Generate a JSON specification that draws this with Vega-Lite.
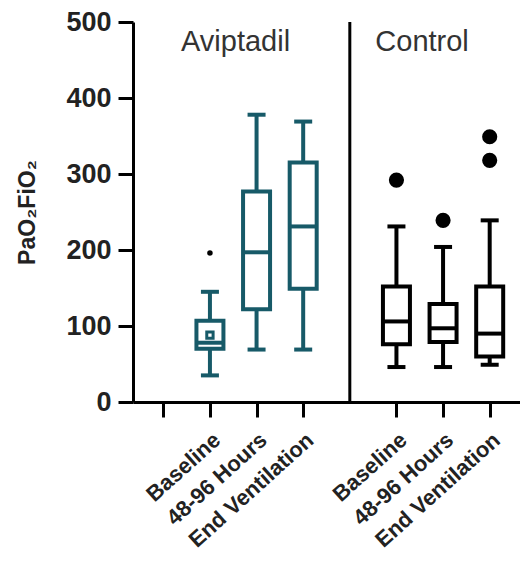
{
  "$schema": "https://vega.github.io/schema/vega-lite/v6.json",
  "autosize": {"type": "none"},
  "padding": {"left": 133, "top": 22, "right": 0, "bottom": 167},
  "width": 387,
  "height": 380,
  "background": "white",
  "config": {
    "view": {"stroke": null},
    "font": "Liberation Sans",
    "axis": {"domainColor": "black", "domainWidth": 3, "tickColor": "black", "tickWidth": 3, "tickSize": 15, "grid": false, "labelColor": "#222", "titleColor": "#222", "labelFontWeight": "bold", "titleFontWeight": "bold"}
  },
  "datasets": {
    "boxes": [
      {"group": "Aviptadil", "slot": "Aviptadil|Baseline", "min": 35, "q1": 70, "median": 78, "q3": 107, "max": 145},
      {"group": "Aviptadil", "slot": "Aviptadil|48-96 Hours", "min": 69, "q1": 122, "median": 197, "q3": 277, "max": 378},
      {"group": "Aviptadil", "slot": "Aviptadil|End Ventilation", "min": 69, "q1": 149, "median": 231, "q3": 315, "max": 369},
      {"group": "Control", "slot": "Control|Baseline", "min": 46, "q1": 76, "median": 106, "q3": 152, "max": 231},
      {"group": "Control", "slot": "Control|48-96 Hours", "min": 46, "q1": 79, "median": 97, "q3": 129, "max": 204},
      {"group": "Control", "slot": "Control|End Ventilation", "min": 49, "q1": 60, "median": 90, "q3": 152, "max": 239}
    ],
    "outliers": [
      {"group": "Aviptadil", "slot": "Aviptadil|Baseline", "value": 196},
      {"group": "Control", "slot": "Control|Baseline", "value": 292},
      {"group": "Control", "slot": "Control|48-96 Hours", "value": 239},
      {"group": "Control", "slot": "Control|End Ventilation", "value": 318},
      {"group": "Control", "slot": "Control|End Ventilation", "value": 349}
    ],
    "means": [
      {"group": "Aviptadil", "slot": "Aviptadil|Baseline", "value": 88}
    ],
    "divider": [{"slot": "gap", "lo": 0, "hi": 500}],
    "titles": [
      {"slot": "Aviptadil|48-96 Hours", "label": "Aviptadil", "value": 474},
      {"slot": "Control|48-96 Hours", "label": "Control", "value": 474}
    ]
  },
  "encoding": {
    "x": {
      "field": "slot", "type": "nominal",
      "scale": {"type": "point", "padding": 0.65, "domain": ["blank", "Aviptadil|Baseline", "Aviptadil|48-96 Hours", "Aviptadil|End Ventilation", "gap", "Control|Baseline", "Control|48-96 Hours", "Control|End Ventilation"]},
      "axis": {"title": null, "values": ["blank", "Aviptadil|Baseline", "Aviptadil|48-96 Hours", "Aviptadil|End Ventilation", "Control|Baseline", "Control|48-96 Hours", "Control|End Ventilation"], "labelExpr": "indexof(datum.value, '|') >= 0 ? split(datum.value, '|')[1] : ''", "labelAngle": -42, "labelFontSize": 22, "labelPadding": 12}
    }
  },
  "layer": [
    {
      "data": {"name": "divider"},
      "mark": {"type": "rule", "color": "black", "strokeWidth": 3},
      "encoding": {"y": {"field": "lo", "type": "quantitative", "scale": {"domain": [0, 500]}, "axis": {"values": [0, 100, 200, 300, 400, 500], "labelFontSize": 27, "labelPadding": 7, "title": "PaO₂FiO₂", "titleFontSize": 23, "titlePadding": 26}}, "y2": {"field": "hi"}}
    },
    {
      "data": {"name": "boxes"},
      "mark": {"type": "rule", "strokeWidth": 4, "opacity": 1},
      "encoding": {"y": {"field": "min", "type": "quantitative"}, "y2": {"field": "max"}, "color": {"field": "group", "type": "nominal", "scale": {"domain": ["Aviptadil", "Control"], "range": ["#175a68", "#000000"]}, "legend": null}}
    },
    {
      "data": {"name": "boxes"},
      "mark": {"type": "tick", "thickness": 4, "size": 18, "opacity": 1},
      "encoding": {"y": {"field": "min", "type": "quantitative"}, "color": {"field": "group", "type": "nominal", "legend": null}}
    },
    {
      "data": {"name": "boxes"},
      "mark": {"type": "tick", "thickness": 4, "size": 18, "opacity": 1},
      "encoding": {"y": {"field": "max", "type": "quantitative"}, "color": {"field": "group", "type": "nominal", "legend": null}}
    },
    {
      "data": {"name": "boxes"},
      "mark": {"type": "bar", "fill": "white", "strokeWidth": 4, "size": 27, "opacity": 1},
      "encoding": {"y": {"field": "q1", "type": "quantitative"}, "y2": {"field": "q3"}, "stroke": {"field": "group", "type": "nominal", "scale": {"domain": ["Aviptadil", "Control"], "range": ["#175a68", "#000000"]}, "legend": null}}
    },
    {
      "data": {"name": "boxes"},
      "mark": {"type": "tick", "thickness": 4, "size": 29, "opacity": 1},
      "encoding": {"y": {"field": "median", "type": "quantitative"}, "color": {"field": "group", "type": "nominal", "legend": null}}
    },
    {
      "data": {"name": "means"},
      "mark": {"type": "square", "filled": false, "strokeWidth": 3, "size": 40, "opacity": 1, "color": "#175a68"},
      "encoding": {"y": {"field": "value", "type": "quantitative"}}
    },
    {
      "data": {"name": "outliers"},
      "mark": {"type": "point", "filled": true, "opacity": 1, "color": "black"},
      "encoding": {"y": {"field": "value", "type": "quantitative"}, "size": {"field": "group", "type": "nominal", "scale": {"domain": ["Aviptadil", "Control"], "range": [30, 230]}, "legend": null}}
    },
    {
      "data": {"name": "titles"},
      "mark": {"type": "text", "fontSize": 29, "color": "#333", "dx": -21, "align": "center", "baseline": "middle"},
      "encoding": {"y": {"field": "value", "type": "quantitative"}, "text": {"field": "label"}}
    }
  ]
}
